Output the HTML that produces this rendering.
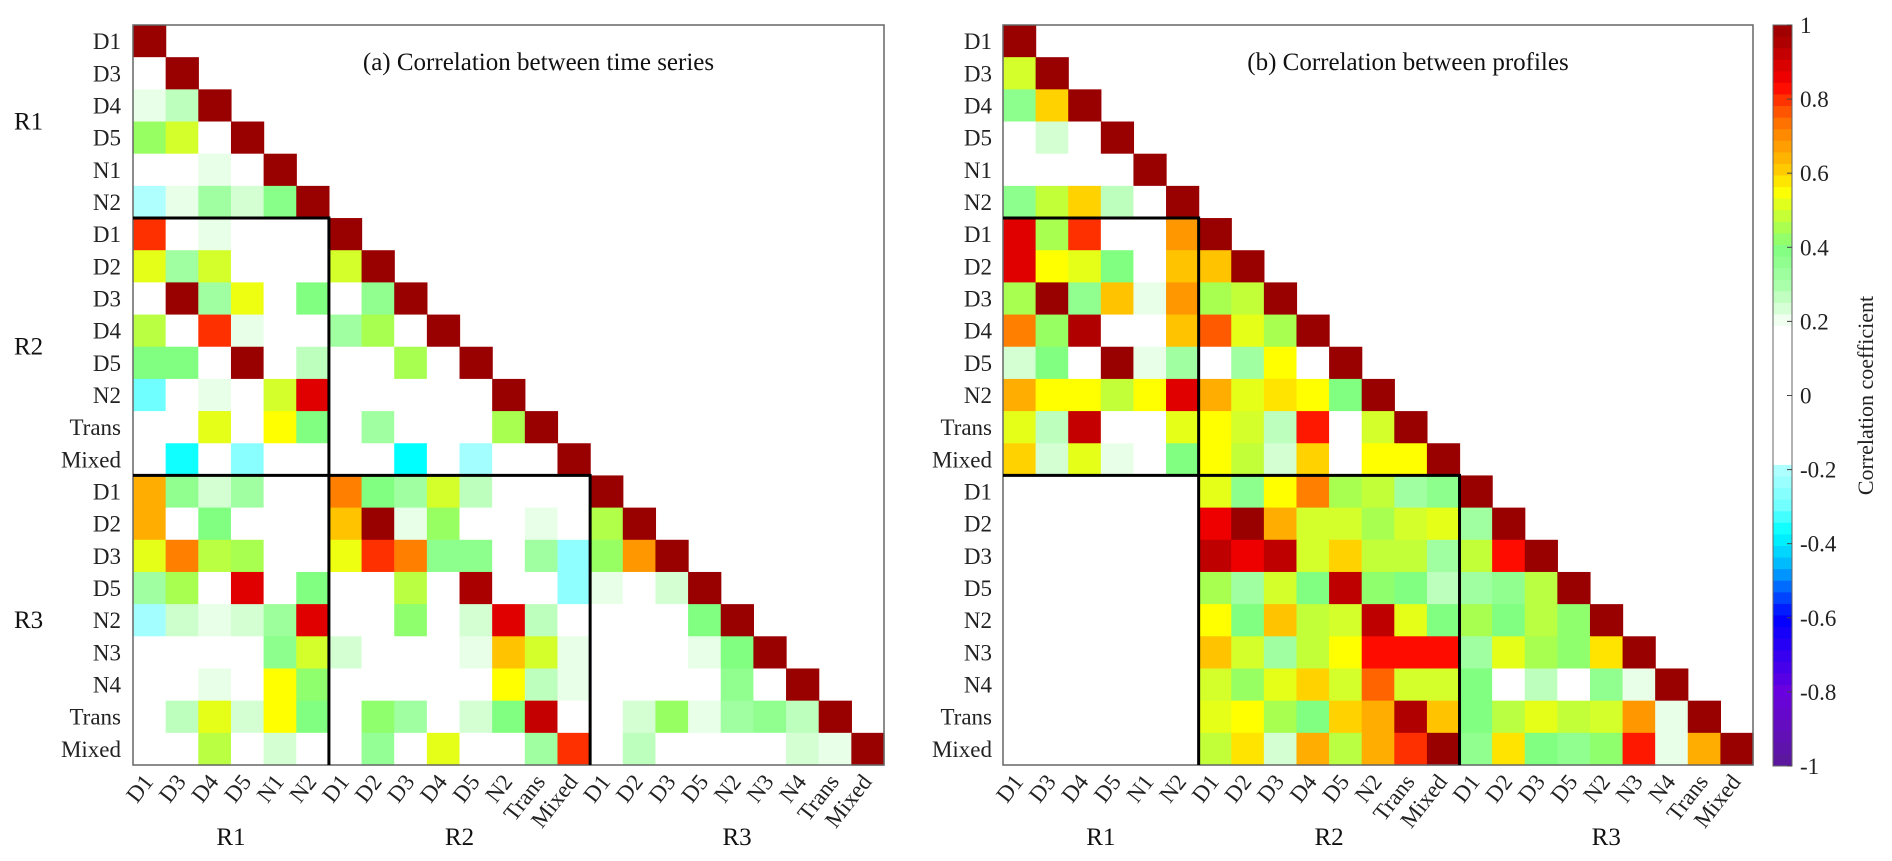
<!DOCTYPE html>
<html><head><meta charset="utf-8"><style>
html,body{margin:0;padding:0;background:#fff;}
svg{display:block;font-family:"Liberation Serif",serif;}
</style></head><body>
<svg id="chart" width="1892" height="861" viewBox="0 0 1892 861" xmlns="http://www.w3.org/2000/svg"></svg>
<script>
const labels = ["D1","D3","D4","D5","N1","N2","D1","D2","D3","D4","D5","N2","Trans","Mixed","D1","D2","D3","D5","N2","N3","N4","Trans","Mixed"];
const groups = ["R1","R2","R3"];
const groupSizes = [6,8,9];
const titles = ["(a) Correlation between time series","(b) Correlation between profiles"];
const cbTicks = [1,0.8,0.6,0.4,0.2,0,-0.2,-0.4,-0.6,-0.8,-1];
const valuesA = [
[],
[0],
[0.21,0.27],
[0.43,0.5,0],
[0,0,0.21,0],
[-0.2,0.21,0.32,0.24,0.38],
[0.8,0,0.21,0,0,0],
[0.52,0.32,0.5,0,0,0,0.5],
[0,1,0.32,0.53,0,0.4,0,0.36],
[0.47,0,0.8,0.21,0,0,0.32,0.45,0],
[0.4,0.4,0,1,0,0.27,0,0,0.45,0],
[-0.3,0,0.21,0,0.5,0.88,0,0,0,0,0],
[0,0,0.52,0,0.55,0.4,0,0.32,0,0,0,0.45],
[0,-0.36,0,-0.26,0,0,0,0,-0.37,0,-0.22,0,0],
[0.65,0.36,0.24,0.32,0,0,0.72,0.4,0.32,0.5,0.27,0,0,0],
[0.65,0,0.4,0,0,0,0.62,1,0.21,0.43,0,0,0.21,0,0.46],
[0.52,0.72,0.47,0.45,0,0,0.53,0.8,0.72,0.37,0.37,0,0.32,-0.25,0.43,0.68],
[0.32,0.45,0,0.88,0,0.4,0,0,0.47,0,0.96,0,0,-0.25,0.21,0,0.24],
[-0.22,0.25,0.21,0.24,0.33,0.88,0,0,0.42,0,0.24,0.88,0.27,0,0,0,0,0.4],
[0,0,0,0,0.37,0.5,0.24,0,0,0,0.21,0.62,0.5,0.21,0,0,0,0.21,0.4],
[0,0,0.21,0,0.55,0.42,0,0,0,0,0,0.55,0.27,0.21,0,0,0,0,0.36,0],
[0,0.27,0.52,0.24,0.55,0.4,0,0.42,0.32,0,0.24,0.4,0.92,0,0,0.24,0.43,0.21,0.32,0.36,0.27],
[0,0,0.47,0,0.24,0,0,0.35,0,0.52,0,0,0.32,0.8,0,0.27,0,0,0,0,0.24,0.21]
];
const valuesB = [
[],
[0.5],
[0.37,0.6],
[0,0.24,0],
[0,0,0,0],
[0.37,0.48,0.6,0.27,0],
[0.88,0.45,0.8,0,0,0.68],
[0.88,0.55,0.52,0.4,0,0.62,0.62],
[0.45,1,0.36,0.62,0.21,0.68,0.45,0.48],
[0.72,0.43,0.95,0,0,0.62,0.76,0.52,0.45],
[0.24,0.4,0,1,0.21,0.32,0,0.32,0.55,0],
[0.65,0.55,0.55,0.48,0.55,0.88,0.65,0.52,0.58,0.55,0.4],
[0.52,0.27,0.92,0,0,0.52,0.55,0.5,0.27,0.82,0,0.5],
[0.6,0.24,0.52,0.21,0,0.4,0.55,0.48,0.24,0.6,0,0.55,0.55],
[0,0,0,0,0,0,0.52,0.37,0.55,0.72,0.45,0.48,0.32,0.37],
[0,0,0,0,0,0,0.86,1,0.65,0.5,0.5,0.45,0.5,0.52,0.32],
[0,0,0,0,0,0,0.93,0.86,0.93,0.5,0.6,0.48,0.48,0.32,0.48,0.83],
[0,0,0,0,0,0,0.45,0.32,0.5,0.4,0.93,0.42,0.4,0.27,0.32,0.36,0.47],
[0,0,0,0,0,0,0.55,0.4,0.62,0.48,0.5,0.93,0.52,0.4,0.45,0.4,0.47,0.42],
[0,0,0,0,0,0,0.62,0.5,0.32,0.48,0.55,0.83,0.83,0.83,0.32,0.52,0.45,0.42,0.58],
[0,0,0,0,0,0,0.5,0.43,0.52,0.6,0.5,0.75,0.5,0.5,0.4,0,0.27,0,0.36,0.21],
[0,0,0,0,0,0,0.52,0.55,0.45,0.4,0.6,0.65,0.95,0.62,0.4,0.47,0.52,0.48,0.5,0.68,0.21],
[0,0,0,0,0,0,0.48,0.58,0.24,0.65,0.47,0.65,0.8,1,0.36,0.58,0.4,0.36,0.42,0.82,0.21,0.65]
];

const stops = [
[1,"#990000"],[0.95,"#b00000"],[0.91,"#cc0000"],[0.87,"#e60000"],[0.84,"#ff0000"],[0.8,"#ff3000"],
[0.76,"#ff5a00"],[0.72,"#ff8000"],[0.68,"#ff9800"],[0.64,"#ffb400"],[0.6,"#ffd200"],[0.55,"#ffff00"],
[0.5,"#d4ff2a"],[0.45,"#a8ff50"],[0.4,"#80ff80"],[0.3,"#a8ffa8"],[0.21,"#e8ffe8"],[0.19,"#ffffff"],
[-0.18,"#ffffff"],[-0.2,"#b0ffff"],[-0.3,"#70ffff"],[-0.37,"#00ffff"],[-0.45,"#00c0ff"],
[-0.6,"#0000ff"],[-0.8,"#6a00e0"],[-1,"#5a1a9a"]];
function hex(c){return [parseInt(c.substr(1,2),16),parseInt(c.substr(3,2),16),parseInt(c.substr(5,2),16)];}
function color(v){
  if(v>=stops[0][0]) return stops[0][1];
  for(let i=0;i<stops.length-1;i++){
    const a=stops[i][0],ca=stops[i][1],b=stops[i+1][0],cb=stops[i+1][1];
    if(v<=a && v>=b){
      const t=(a-b)===0?0:(a-v)/(a-b);
      const A=hex(ca),B=hex(cb);
      return "rgb("+A.map((x,k)=>Math.round(x+(B[k]-x)*t)).join(",")+")";
    }
  }
  return stops[stops.length-1][1];
}

const NS="http://www.w3.org/2000/svg";
const svgEl=document.getElementById("chart");
function mk(tag,attrs,parent){const e=document.createElementNS(NS,tag);for(const k in attrs)e.setAttribute(k,attrs[k]);(parent||svgEl).appendChild(e);return e;}

const N=labels.length;
const topY=25, bottomY=765;
const panels=[{x0:133,x1:884,vals:valuesA,ylx:121,key:"a"},{x0:1003,x1:1753,vals:valuesB,ylx:992,key:"b"}];
const cellH=(bottomY-topY)/N;

panels.forEach((p,pi)=>{
  const cw=(p.x1-p.x0)/N;
  const xs=i=>p.x0+i*cw;
  const ys=i=>topY+i*cellH;
  const g=mk("g",{});
  
  
  for(let r=0;r<N;r++){
    const row=p.vals[r];
    for(let c=0;c<=r;c++){
      const v=(c===r)?1:row[c];
      const rect=mk("rect",{x:xs(c).toFixed(2),y:ys(r).toFixed(2),width:(cw+0.6).toFixed(2),height:(cellH+0.6).toFixed(2),fill:color(v)},g);
      
      
    }
  }
  const frame=mk("rect",{x:p.x0,y:topY,width:p.x1-p.x0,height:bottomY-topY,fill:"none",stroke:"#666","stroke-width":1.5});
  
  
  const b1=groupSizes[0], b2=groupSizes[0]+groupSizes[1];
  const blk=mk("path",{d:`M${xs(0)},${ys(b1)}H${xs(b1)}V${ys(N)}M${xs(0)},${ys(b2)}H${xs(b2)}V${ys(N)}`,fill:"none",stroke:"#000","stroke-width":3});
  
  
  const t=mk("text",{x:(p.x0+p.x1)/2+30,y:70,"font-size":25,"text-anchor":"middle",fill:"#111"});
  t.textContent=titles[pi];
  
  
  for(let i=0;i<N;i++){
    const yl=mk("text",{x:p.ylx,y:ys(i)+cellH/2+8,"font-size":23,"text-anchor":"end",fill:"#222"});
    yl.textContent=labels[i];
    
    
    const cx=xs(i)+cw/2+5, cy=bottomY+17;
    const xl=mk("text",{x:cx,y:cy,"font-size":23,"text-anchor":"end",fill:"#222",transform:`rotate(-52 ${cx} ${cy})`});
    xl.textContent=labels[i];
    
    
  }
  let s=0;
  groups.forEach((gname,gi)=>{
    const mid=s+groupSizes[gi]/2; s+=groupSizes[gi];
    const gx=mk("text",{x:xs(mid),y:845,"font-size":25,"text-anchor":"middle",fill:"#111"});
    gx.textContent=gname;
    
    
    if(pi===0){
      const gy=mk("text",{x:14,y:ys(mid)+8,"font-size":25,fill:"#111"});
      gy.textContent=gname;
      
      
    }
  });
});

// colorbar
const cbx=1773, cbw=19, cbTop=25, cbBot=766;
const cby=v=>cbTop+(1-v)/2*(cbBot-cbTop);
const cb=mk("g",{});


const steps=64;
for(let i=0;i<steps;i++){
  const v=1-(i+0.5)*2/steps;
  const y0=cbTop+i*(cbBot-cbTop)/steps;
  mk("rect",{x:cbx,y:y0.toFixed(2),width:cbw,height:((cbBot-cbTop)/steps+0.5).toFixed(2),fill:color(v)},cb);
}
mk("rect",{x:cbx,y:cbTop,width:cbw,height:cbBot-cbTop,fill:"none",stroke:"#666","stroke-width":1},cb);
cbTicks.forEach(v=>{
  const y=cby(v);
  mk("line",{x1:cbx+cbw-5,x2:cbx+cbw,y1:y,y2:y,stroke:"#444","stroke-width":1},cb);
  const tl=mk("text",{x:1800,y:y+8,"font-size":23,fill:"#222"},cb);
  tl.textContent=String(v);
  
  
});
const ct=mk("text",{x:1873,y:(cbTop+cbBot)/2,"font-size":22,"text-anchor":"middle",fill:"#222",transform:`rotate(-90 1873 ${(cbTop+cbBot)/2})`});
ct.textContent="Correlation coefficient";


</script>
</body></html>
